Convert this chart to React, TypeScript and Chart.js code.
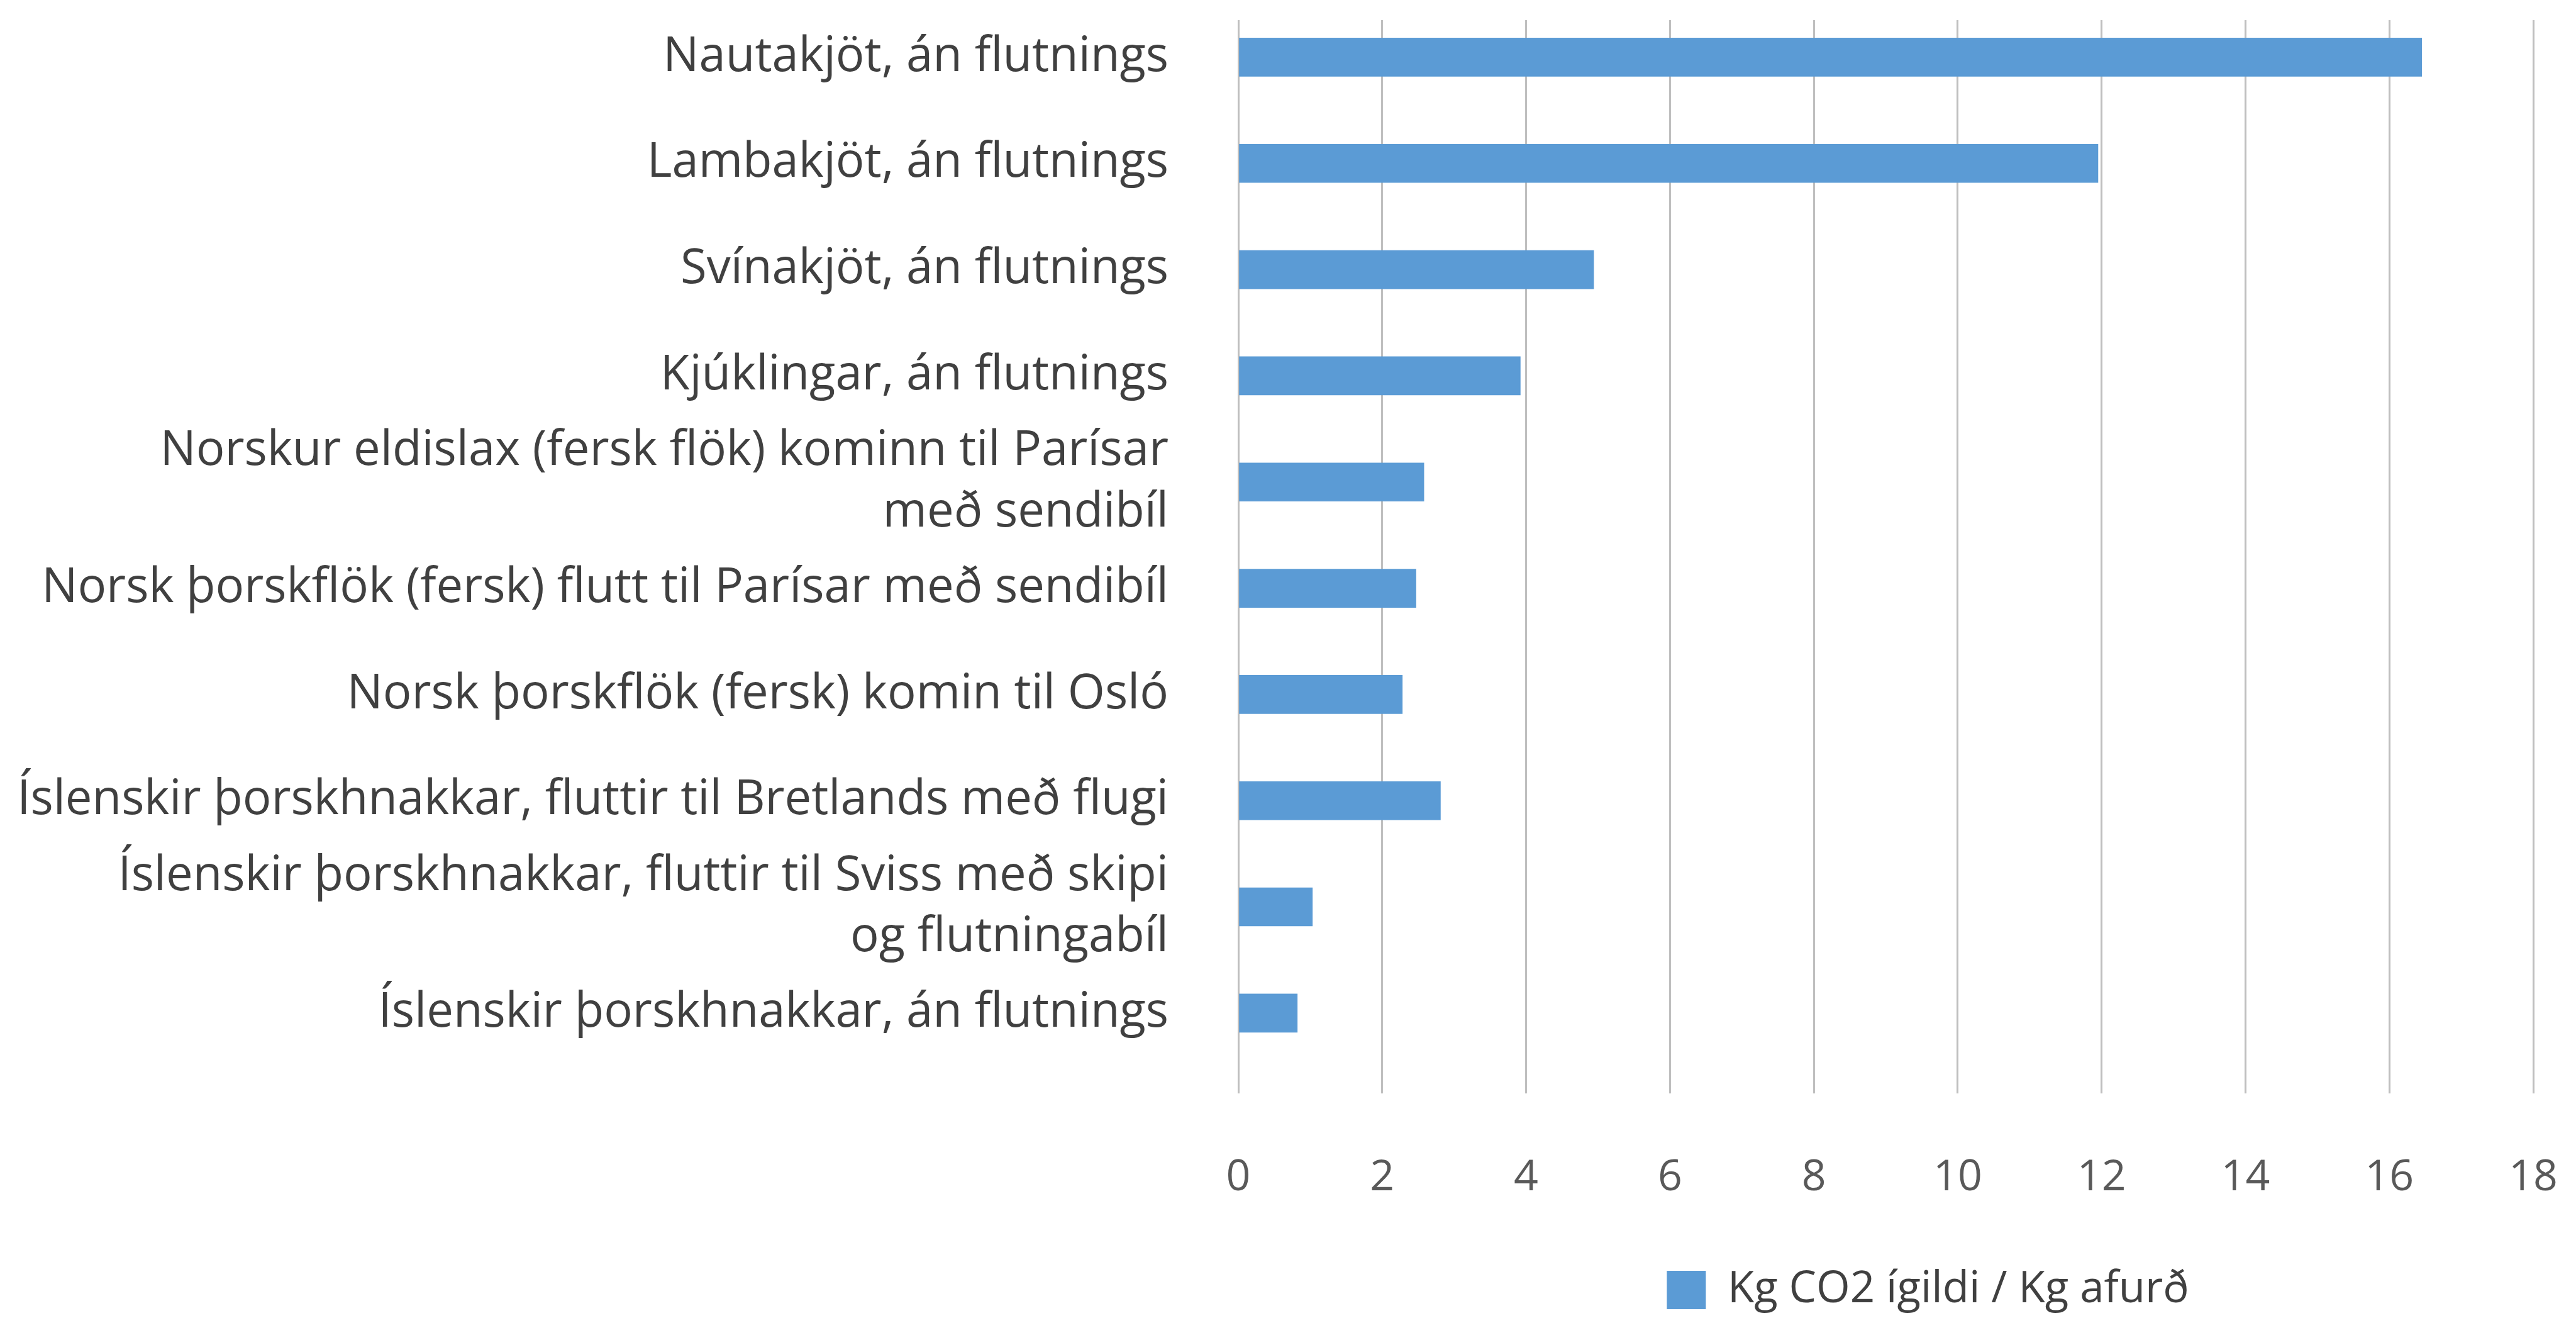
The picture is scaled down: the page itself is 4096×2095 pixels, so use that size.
import React, { useEffect, useRef } from "react";
import { Chart, registerables } from "chart.js";

Chart.register(...registerables);

const categories: (string | string[])[] = [
  "Nautakjöt, án flutnings",
  "Lambakjöt, án flutnings",
  "Svínakjöt, án flutnings",
  "Kjúklingar, án flutnings",
  ["Norskur eldislax (fersk flök) kominn til Parísar", "með sendibíl"],
  "Norsk þorskflök (fersk) flutt til Parísar með sendibíl",
  "Norsk þorskflök (fersk) komin til Osló",
  "Íslenskir þorskhnakkar, fluttir til Bretlands með flugi",
  ["Íslenskir þorskhnakkar, fluttir til Sviss með skipi", "og flutningabíl"],
  "Íslenskir þorskhnakkar, án flutnings",
];

const values = [16.45, 11.95, 4.94, 3.92, 2.58, 2.47, 2.28, 2.81, 1.03, 0.82];

const seriesLabel = "Kg CO2 ígildi / Kg afurð";

const xTicks = [0, 2, 4, 6, 8, 10, 12, 14, 16, 18];

const FONT = "'Open Sans', 'Noto Sans', sans-serif";

const legendShift = {
  id: "legendShift",
  afterLayout(chart: any) {
    const l = chart.legend;
    if (l) {
      l.left += 67;
      l.right += 67;
    }
  },
};

export default function App() {
  const ref = useRef<HTMLCanvasElement>(null);

  useEffect(() => {
    if (!ref.current) return;
    const chart = new Chart(ref.current, {
      type: "bar",
      data: {
        datasets: [
          {
            label: seriesLabel,
            data: values.map((v, i) => ({ x: v, y: i })),
            backgroundColor: "#5b9bd5",
            borderWidth: 0,
            barThickness: 61,
          } as any,
        ],
      },
      options: {
        indexAxis: "y",
        responsive: false,
        animation: false,
        devicePixelRatio: 1,
        layout: { padding: { top: 32, right: 68, bottom: 0, left: 0 } },
        scales: {
          x: {
            type: "linear",
            position: "bottom",
            min: xTicks[0],
            max: xTicks[xTicks.length - 1],
            afterBuildTicks: (s: any) => {
              s.ticks = xTicks.map((v) => ({ value: v }));
            },
            afterFit: (s: any) => {
              s.height = 268;
              s.paddingLeft = 0;
              s.paddingRight = 0;
            },
            ticks: {
              stepSize: 2,
              padding: 94,
              color: "#595959",
              font: { family: FONT, size: 68 },
            },
            grid: { color: "#bfbfbf", lineWidth: 3, drawTicks: false },
            border: { display: false },
          },
          y: {
            type: "linear",
            position: "left",
            reverse: true,
            offset: false,
            min: -0.349,
            max: 9.756,
            afterBuildTicks: (s: any) => {
              s.ticks = categories.map((_, i) => ({ value: i }));
            },
            afterFit: (s: any) => {
              s.width = 1969;
              s.paddingTop = 0;
              s.paddingBottom = 0;
            },
            ticks: {
              autoSkip: false,
              padding: 111,
              color: "#404040",
              font: { family: FONT, size: 76, lineHeight: 1.28 },
              callback: (v: any) => categories[v as number] ?? "",
            },
            grid: { display: false, drawTicks: false, offset: false },
            border: { display: false },
          },
        },
        plugins: {
          legend: {
            position: "bottom",
            fullSize: false,
            labels: {
              boxWidth: 62,
              boxHeight: 61,
              padding: 10,
              color: "#404040",
              font: { family: FONT, size: 69 },
            },
          },
          tooltip: { enabled: false },
        },
      } as any,
      plugins: [legendShift],
    });
    return () => chart.destroy();
  }, []);

  return (
    <div
      style={{
        position: "fixed",
        left: 0,
        top: 0,
        width: 4096,
        height: 2095,
        background: "#ffffff",
      }}
    >
      <canvas ref={ref} width={4096} height={2095} style={{ width: 4096, height: 2095 }} />
    </div>
  );
}
